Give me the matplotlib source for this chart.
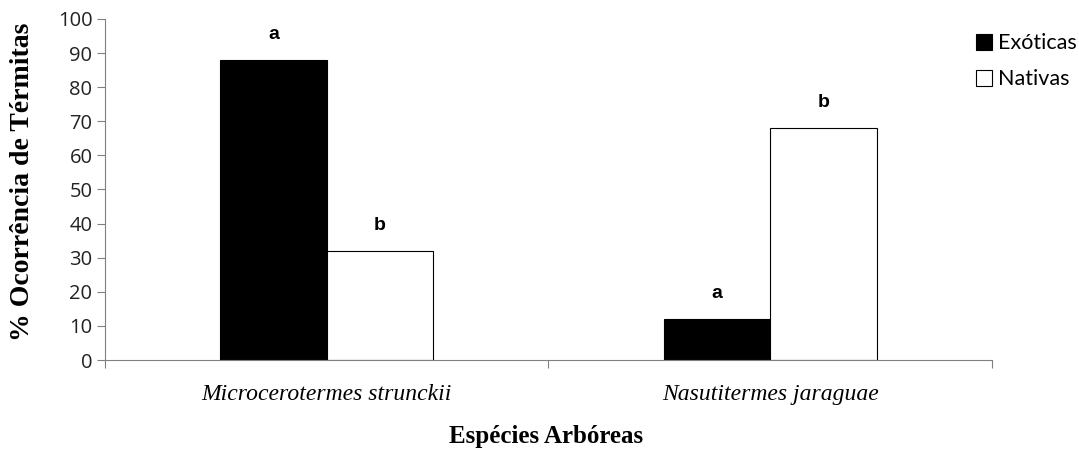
import numpy as np
import matplotlib.pyplot as plt

especies = ['Microcerotermes strunckii', 'Nasutitermes jaraguae']
exoticas = [88, 12]
nativas = [32, 68]
letras_exoticas = ['a', 'a']
letras_nativas = ['b', 'b']

fig = plt.figure(figsize=(10.79, 4.5), dpi=100)
ax = fig.add_axes([0.0973, 0.2, 0.822, 0.758])

x = np.arange(len(especies))
largura = 0.24

barras_exo = ax.bar(x - largura / 2, exoticas, largura, color='black', edgecolor='black',
                    linewidth=0.8, label='Exóticas')
barras_nat = ax.bar(x + largura / 2, nativas, largura, color='white', edgecolor='black',
                    linewidth=0.8, label='Nativas')

# letras de significancia
for barras, letras in [(barras_exo, letras_exoticas), (barras_nat, letras_nativas)]:
    for b, l in zip(barras, letras):
        ax.text(b.get_x() + b.get_width() / 2, b.get_height() + 5, l,
                ha='center', va='bottom', fontsize=14, fontweight='bold',
                family='Liberation Sans')

ax.set_xlim(-0.5, 1.5)
ax.set_ylim(0, 100)
ax.set_yticks(range(0, 101, 10))
ax.set_yticklabels([str(v) for v in range(0, 101, 10)], family='Open Sans', fontsize=14.5,
                   color='#222222')

# ticks nas divisões das categorias
ax.set_xticks([-0.5, 0.5, 1.5])
ax.set_xticklabels(['', '', ''])
ax.tick_params(axis='x', direction='out', length=6, color='#808080')
ax.tick_params(axis='y', direction='out', length=6, color='#808080', pad=3)
for i, nome in enumerate(especies):
    ax.text(i, -7, nome, ha='center', va='top', fontsize=17, style='italic',
            family='Liberation Serif', transform=ax.transData)

for lado in ['top', 'right']:
    ax.spines[lado].set_visible(False)
ax.spines['left'].set_color('#808080')
ax.spines['bottom'].set_color('#808080')

fig.text(0.0204, 0.595, '% Ocorrência de Térmitas', rotation=90, ha='center', va='center',
         family='Liberation Serif', fontsize=20, fontweight='bold')
fig.text(0.506, 0.029, 'Espécies Arbóreas', ha='center', va='center', family='Liberation Serif',
         fontsize=18, fontweight='bold')

ax.legend(loc='upper left', bbox_to_anchor=(0.96, 1.015), frameon=False,
          prop={'family': 'Lato', 'size': 15.5}, handlelength=0.75, handleheight=0.75,
          handletextpad=0.3, labelspacing=0.75)

fig.savefig('out.png', dpi=100)
